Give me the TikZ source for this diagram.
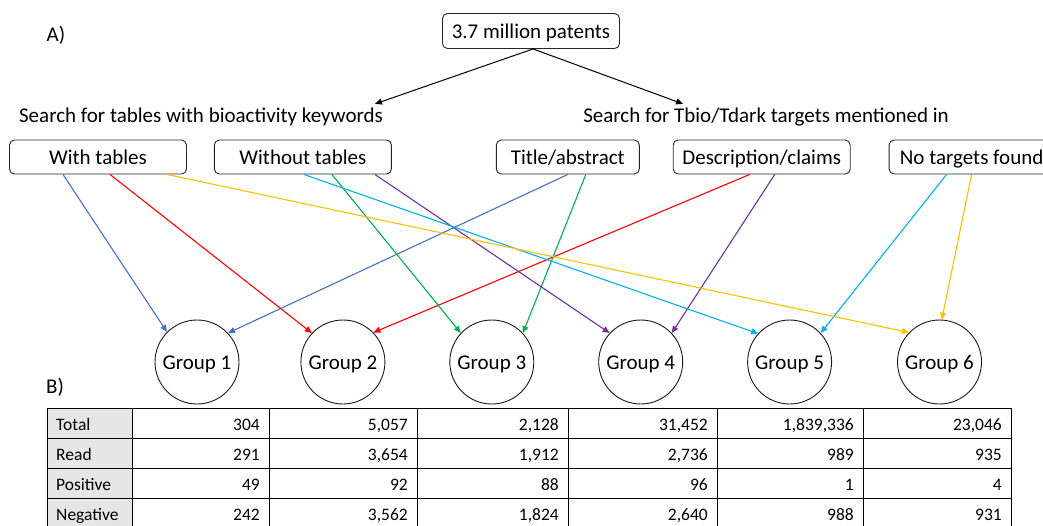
\documentclass[tikz,border=0pt]{standalone}
\usepackage{fontspec}
\setmainfont{Carlito}
\usetikzlibrary{positioning, shapes, arrows.meta}

\definecolor{gblue}{HTML}{4472C4}
\definecolor{gred}{HTML}{FF0000}
\definecolor{ggreen}{HTML}{00B050}
\definecolor{gpurple}{HTML}{7030A0}
\definecolor{gcyan}{HTML}{00B0F0}
\definecolor{gorange}{HTML}{FFC000}
\definecolor{tabgray}{HTML}{E7E6E6}

\begin{document}
\begin{tikzpicture}[x=1pt, y=-1pt,
  big/.style={font=\fontsize{21}{25}\selectfont},
  src/.style={big, draw=black!85, rectangle, rounded corners=5pt, minimum width=177pt, minimum height=35pt, text height=15pt, text depth=0pt, line width=0.9pt},
  opt/.style={src, minimum height=34pt},
  grp/.style={big, draw=black!90, circle, minimum size=84pt, inner sep=0pt, text height=15pt, text depth=0pt, line width=0.9pt},
  link/.style={-{Triangle[length=7pt, width=6pt]}, line width=1.1pt},
  cell/.style={font=\fontsize{17.5}{21}\selectfont, inner sep=0pt},
  tab/.style={line width=0.9pt}
]
\useasboundingbox (0,0) rectangle (1043,525);
\clip (0,0) rectangle (1043,525);

\node[big] (la) at (56,35) {A)};
\node[big] (lb) at (55,387) {B)};

\node[src] (pat) at (531,31) {3.7 million patents};

\node[big, anchor=base] (s1) at (201,122) {Search for tables with bioactivity keywords};
\node[big, anchor=base] (s2) at (766,122) {Search for Tbio/Tdark targets mentioned in};

\draw[-{Triangle[length=7pt, width=6pt]}, line width=1pt] ([xshift=2pt]pat.south) -- ([xshift=174pt]s1.north);
\draw[-{Triangle[length=7pt, width=6pt]}, line width=1pt] ([xshift=2pt]pat.south) -- ([xshift=-83pt]s2.north);

% search results
\node[opt] (wt) at (98,157) {With tables};
\node[opt, right=27pt of wt] (wo) {Without tables};
\node[opt, minimum width=143pt, right=104pt of wo] (ta) {Title/abstract};
\node[opt, right=33pt of ta] (dc) {Description/claims};
\node[opt, minimum width=165pt, right=38pt of dc] (nt) {No targets found};

% groups
\node[grp] (g1) at (197,362) {Group 1};
\node[grp, right=61pt of g1] (g2) {Group 2};
\node[grp, right=64pt of g2] (g3) {Group 3};
\node[grp, right=64pt of g3] (g4) {Group 4};
\node[grp, right=64pt of g4] (g5) {Group 5};
\node[grp, right=65pt of g5] (g6) {Group 6};

\draw[link, gblue] ([xshift=-35pt]wt.south) -- (g1.135);
\draw[link, gblue] (ta.south) -- (g1.43);
\draw[link, gred] ([xshift=12pt]wt.south) -- (g2.137);
\draw[link, gred] ([xshift=-12pt]dc.south) -- (g2.44);
\draw[link, ggreen] ([xshift=29pt]wo.south) -- (g3.137);
\draw[link, ggreen] ([xshift=18pt]ta.south) -- (g3.43);
\draw[link, gpurple] ([xshift=72pt]wo.south) -- (g4.137);
\draw[link, gpurple] ([xshift=13pt]dc.south) -- (g4.43);
\draw[link, gcyan] ([xshift=1pt]wo.south) -- (g5.138);
\draw[link, gcyan] ([xshift=-25pt]nt.south) -- (g5.43);
\draw[link, gorange] ([xshift=69pt]wt.south) -- (g6.136);
\draw[link, gorange] (nt.south) -- (g6.87);

% table
\fill[tabgray] (47,408) rectangle (132,530);
\draw[tab] (47,408) rectangle (1011,530);
\foreach \y in {438,468,498}
  \draw[tab] (47,\y) -- (1011,\y);
\foreach \x in {132,269,417,568,717,863}
  \draw[tab] (\x,408) -- (\x,530);

\foreach \lab [count=\r] in {Total, Read, Positive, Negative}
  \node[cell, anchor=base west] (row\r) at (56,400+30*\r) {\lab};

\foreach \x/\v [count=\c] in {260/304, 408/{5,057}, 559/{2,128}, 708/{31,452}, 854/{1,839,336}, 1002/{23,046}}
  \node[cell, anchor=base east] (tot\c) at (\x,430) {\v};
\foreach \x/\v [count=\c] in {260/291, 408/{3,654}, 559/{1,912}, 708/{2,736}, 854/989, 1002/935}
  \node[cell, anchor=base east] (rd\c) at (\x,460) {\v};
\foreach \x/\v [count=\c] in {260/49, 408/92, 559/88, 708/96, 854/1, 1002/4}
  \node[cell, anchor=base east] (pos\c) at (\x,490) {\v};
\foreach \x/\v [count=\c] in {260/242, 408/{3,562}, 559/{1,824}, 708/{2,640}, 854/988, 1002/931}
  \node[cell, anchor=base east] (neg\c) at (\x,520) {\v};
\end{tikzpicture}
\end{document}
